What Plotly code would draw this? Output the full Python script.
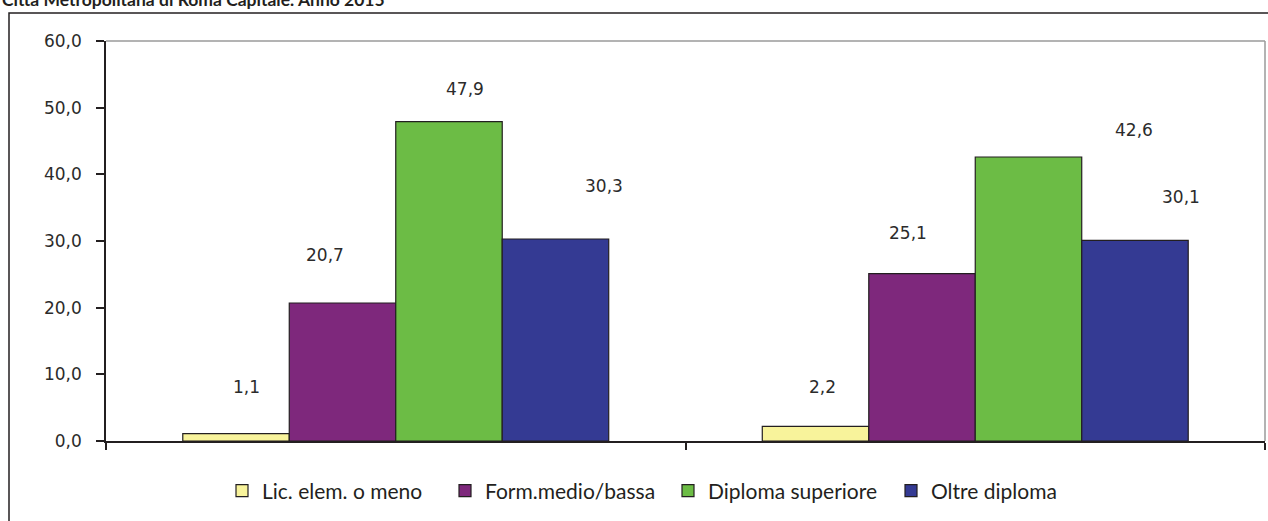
import plotly.graph_objects as go

# ---- data ----
groups = ["Gruppo 1", "Gruppo 2"]
series_names = ["Lic. elem. o meno", "Form.medio/bassa", "Diploma superiore", "Oltre diploma"]
values_lic = [1.1, 2.2]
values_form = [20.7, 25.1]
values_dipl = [47.9, 42.6]
values_oltre = [30.3, 30.1]
y_ticks = [0, 10, 20, 30, 40, 50, 60]
title_text = "Città Metropolitana di Roma Capitale. Anno 2015"

series_values = [values_lic, values_form, values_dipl, values_oltre]
colors = ["#F8F39B", "#7E287C", "#6CBC45", "#343A93"]

# manual label offsets (pixels) as placed in the original chart
label_dx = [[10, 7], [-18, -14], [16, 106], [49, 46]]
label_dy = [[-47, -39], [-48, -41], [-33, -27], [-53, -43]]

W, H = 1268, 521
ml, mr, mt, mb = 106, 3, 41, 80
pw, ph = W - ml - mr, H - mt - mb

bargap = 0.265
n = len(series_names)
bw = (1 - bargap) / n

fig = go.Figure()
xs = list(range(len(groups)))
for i, (name, vals, col) in enumerate(zip(series_names, series_values, colors)):
    fig.add_trace(go.Bar(
        x=xs, y=vals, name=name,
        marker=dict(color=col, line=dict(color="#231F20", width=1.2)),
        hoverinfo="y",
    ))

annotations = []
for i, vals in enumerate(series_values):
    off = -(1 - bargap) / 2 + (i + 0.5) * bw
    for g, v in enumerate(vals):
        annotations.append(dict(
            x=g + off, y=v, xref="x", yref="y",
            text=f"{v:.1f}".replace(".", ","),
            showarrow=False, xanchor="center", yanchor="middle",
            xshift=label_dx[i][g], yshift=-label_dy[i][g],
            font=dict(family="DejaVu Sans", size=17, color="#2B2B2B"),
        ))

annotations.append(dict(
    x=-ml / pw, y=1 + (mt - 12) / ph, xref="paper", yref="paper",
    text="<b>" + title_text + "</b>", showarrow=False,
    xanchor="left", yanchor="bottom",
    font=dict(family="Lato", size=17.5, color="#231F20"),
))

shapes = [
    # outer chart border
    dict(type="rect", xref="paper", yref="paper",
         x0=(9 - ml) / pw, x1=1 + 20 / pw,
         y0=-(mb + 20) / ph, y1=1 + (mt - 13) / ph,
         line=dict(color="#231F20", width=1.5), layer="below"),
    # top & right plot-area border (gray)
    dict(type="line", xref="paper", yref="paper", x0=0, x1=1, y0=1, y1=1,
         line=dict(color="#9A9A9A", width=1.5)),
    dict(type="line", xref="paper", yref="paper", x0=1, x1=1, y0=0, y1=1,
         line=dict(color="#9A9A9A", width=1.5)),
]

fig.update_layout(
    width=W, height=H,
    margin=dict(l=ml, r=mr, t=mt, b=mb, pad=0),
    paper_bgcolor="white", plot_bgcolor="white",
    barmode="group", bargap=bargap, bargroupgap=0,
    showlegend=True,
    legend=dict(orientation="h", x=(222 - ml) / pw, xanchor="left", y=-50 / ph, yanchor="middle",
                font=dict(family="Lato", size=21, color="#231F20"),
                entrywidth=178, itemclick=False),
    annotations=annotations,
    shapes=shapes,
    xaxis=dict(range=[-0.5, len(groups) - 0.5], tickvals=[-0.5, 0.5, 1.5],
               showticklabels=False, ticks="outside", ticklen=7, tickwidth=1.5,
               tickcolor="#231F20", showline=True, linecolor="#231F20", linewidth=1.5,
               showgrid=False, zeroline=False, fixedrange=True),
    yaxis=dict(range=[0, 60], tickvals=y_ticks,
               ticktext=[f"{t:.1f}".replace(".", ",") for t in y_ticks],
               ticks="outside", ticklen=8, tickwidth=1.5, tickcolor="#231F20",
               ticklabelstandoff=11,
               showline=True, linecolor="#231F20", linewidth=1.5,
               showgrid=False, zeroline=False,
               tickfont=dict(family="DejaVu Sans", size=17, color="#2B2B2B"),
               fixedrange=True),
)

fig.write_html("out.html", config={"displayModeBar": False},
               post_script="document.body.style.margin='0';")
